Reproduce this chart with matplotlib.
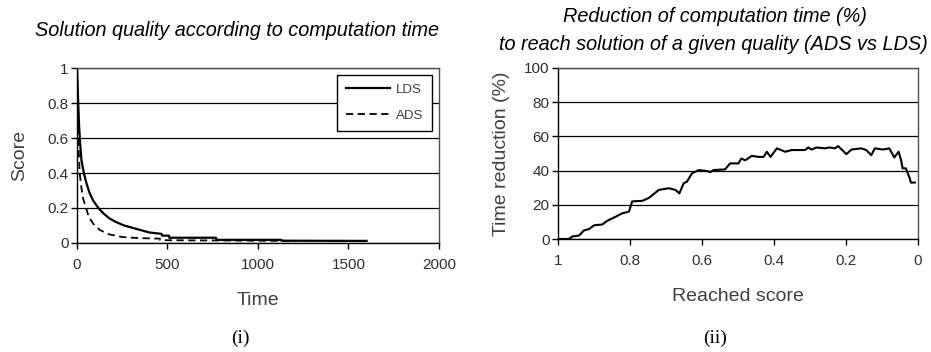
import matplotlib
matplotlib.use("Agg")
import matplotlib.pyplot as plt

# ---------------- data ----------------
lds_time = [0, 5, 12, 18, 25, 38, 50, 68, 88, 118, 145, 180, 215, 260, 330, 400,
            468, 470, 508, 510, 768, 770, 1128, 1130, 1600]
lds_score = [1.0, 0.85, 0.66, 0.56, 0.47, 0.40, 0.35, 0.29, 0.245, 0.20, 0.17, 0.14,
             0.12, 0.10, 0.08, 0.06, 0.052, 0.042, 0.042, 0.03, 0.03, 0.018, 0.018,
             0.013, 0.012]

ads_time = [0, 4, 8, 15, 25, 35, 50, 65, 90, 125, 175, 250, 340, 458, 460, 1200]
ads_score = [1.0, 0.76, 0.56, 0.40, 0.31, 0.25, 0.20, 0.15, 0.11, 0.075, 0.05, 0.034,
             0.028, 0.025, 0.016, 0.012]

reached = [1.0, 0.97, 0.96, 0.942, 0.928, 0.914, 0.90, 0.877, 0.863, 0.84, 0.822, 0.803,
           0.794, 0.766, 0.748, 0.72, 0.692, 0.674, 0.663, 0.651, 0.642, 0.628, 0.609,
           0.586, 0.577, 0.568, 0.536, 0.522, 0.499, 0.491, 0.48, 0.462, 0.443, 0.429,
           0.42, 0.41, 0.392, 0.369, 0.351, 0.314, 0.305, 0.296, 0.282, 0.259, 0.245,
           0.231, 0.222, 0.199, 0.185, 0.158, 0.144, 0.13, 0.12, 0.098, 0.08, 0.066,
           0.054, 0.047, 0.043, 0.034, 0.023, 0.02, 0.009]
reduction = [0, 0, 1.5, 2, 5, 5.8, 8, 8.5, 10.7, 13, 15, 16,
             22, 22.3, 24, 28.7, 29.7, 28.7, 26.7, 32.6, 33.5, 38.4, 40.3,
             39.7, 39.1, 40.3, 40.7, 44.2, 44.2, 47, 46, 48.6, 48, 48,
             51, 48, 53, 51, 52, 52, 53.5, 52.3, 53.5, 53, 53.5,
             53, 54.3, 49.6, 52.3, 53, 52, 49, 53, 52.3, 53, 47.7,
             51, 46, 41.3, 41.3, 35.5, 33, 33]

# ---------------- style ----------------
plt.rcParams['font.family'] = ['Liberation Sans', 'DejaVu Sans']
TICK_COL = '#303030'
LABEL_COL = '#404040'
TITLE_SIZE = 14.3

fig = plt.figure(figsize=(9.31, 3.52), dpi=100)


def style_axes(ax):
    ax.set_facecolor('white')
    for s in ['top', 'right']:
        ax.spines[s].set_color('#505050')
        ax.spines[s].set_linewidth(1.0)
    for s in ['left', 'bottom']:
        ax.spines[s].set_color('black')
        ax.spines[s].set_linewidth(1.0)
    ax.yaxis.grid(True, color='black', linewidth=0.9)
    ax.set_axisbelow(True)
    ax.tick_params(axis='both', direction='out', length=4, width=1,
                   labelsize=11, labelcolor=TICK_COL, color='black')
    ax.tick_params(axis='x', pad=7)
    ax.tick_params(axis='y', pad=2)


# ---------------- left chart ----------------
ax1 = fig.add_axes([0.0827, 0.3097, 0.3888, 0.497])
style_axes(ax1)
ax1.plot(lds_time, lds_score, color='black', linewidth=1.6, label='LDS')
ax1.plot(ads_time, ads_score, color='black', linewidth=1.3, linestyle=(0, (4, 2.5)),
         label='ADS')
ax1.set_xlim(0, 2000)
ax1.set_ylim(0, 1)
ax1.set_xticks([0, 500, 1000, 1500, 2000])
ax1.set_yticks([0, 0.2, 0.4, 0.6, 0.8, 1])
ax1.set_yticklabels(['0', '0.2', '0.4', '0.6', '0.8', '1'])
ax1.set_xlabel('Time', fontsize=14, color=LABEL_COL, labelpad=14)
ax1.set_ylabel('Score', fontsize=14, color=LABEL_COL, labelpad=14)
leg = ax1.legend(loc='upper right', bbox_to_anchor=(0.981, 0.96), borderaxespad=0,
                 fontsize=9.5, frameon=True, fancybox=False, handlelength=3.3,
                 handletextpad=0.5, borderpad=0.65, labelspacing=1.05,
                 labelcolor=LABEL_COL)
leg.get_frame().set_edgecolor('black')
leg.get_frame().set_linewidth(1.0)
leg.get_frame().set_alpha(1)

fig.text(237 / 931, 1 - 30 / 352, 'Solution quality according to computation time',
         ha='center', va='center', fontsize=TITLE_SIZE, style='italic', color='black')
fig.text(240 / 931, 1 - 338 / 352, '(i)', ha='center', va='center',
         fontsize=14, family='Liberation Serif', color='black')

# ---------------- right chart ----------------
ax2 = fig.add_axes([0.5994, 0.321, 0.3867, 0.486])
style_axes(ax2)
ax2.plot(reached, reduction, color='black', linewidth=1.5)
ax2.set_xlim(1, 0)
ax2.set_ylim(0, 100)
ax2.set_xticks([1, 0.8, 0.6, 0.4, 0.2, 0])
ax2.set_xticklabels(['1', '0.8', '0.6', '0.4', '0.2', '0'])
ax2.set_yticks([0, 20, 40, 60, 80, 100])
ax2.set_xlabel('Reached score', fontsize=14, color=LABEL_COL, labelpad=14)
ax2.set_ylabel('Time reduction (%)', fontsize=14, color=LABEL_COL, labelpad=10)

fig.text(715 / 931, 1 - 16 / 352, 'Reduction of computation time (%)',
         ha='center', va='center', fontsize=TITLE_SIZE, style='italic', color='black')
fig.text(713 / 931, 1 - 45 / 352, 'to reach solution of a given quality (ADS vs LDS)',
         ha='center', va='center', fontsize=TITLE_SIZE, style='italic', color='black')
fig.text(715 / 931, 1 - 338 / 352, '(ii)', ha='center', va='center',
         fontsize=14, family='Liberation Serif', color='black')

fig.savefig('out.png', dpi=100)
